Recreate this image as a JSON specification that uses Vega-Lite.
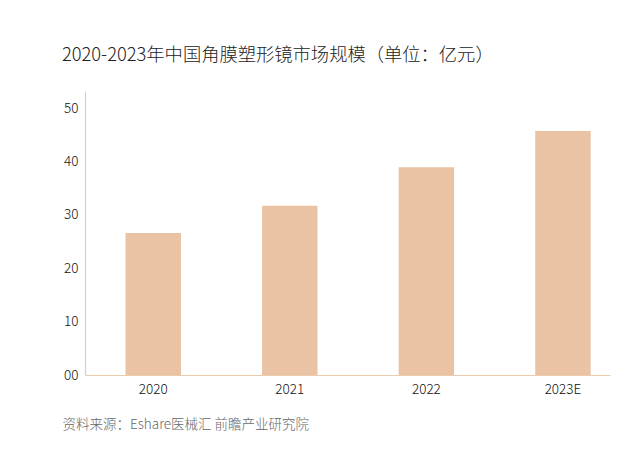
{
  "$schema": "https://vega.github.io/schema/vega-lite/v6.json",
  "width": 525,
  "height": 284,
  "autosize": {"type": "none"},
  "padding": {"left": 85, "top": 91, "right": 30, "bottom": 75},
  "background": "white",
  "config": {
    "font": "Noto Sans CJK SC",
    "view": {"stroke": null}
  },
  "title": {
    "text": "2020-2023年中国角膜塑形镜市场规模（单位：亿元）",
    "anchor": "start",
    "frame": "group",
    "dx": -23,
    "offset": 26,
    "fontSize": 18.3,
    "fontWeight": 300,
    "color": "#222222"
  },
  "data": {
    "values": [
      {"year": "2020", "value": 26.6},
      {"year": "2021", "value": 31.7},
      {"year": "2022", "value": 38.9},
      {"year": "2023E", "value": 45.7}
    ]
  },
  "mark": {"type": "bar", "color": "#E9C3A3"},
  "encoding": {
    "x": {
      "field": "year",
      "type": "ordinal",
      "sort": null,
      "scale": {"paddingInner": 0.594, "paddingOuter": 0.219, "align": 0.677},
      "axis": {
        "title": "资料来源：Eshare医械汇 前瞻产业研究院",
        "titleAnchor": "start",
        "titleAlign": "left",
        "titleX": -23,
        "titleY": 49,
        "titleBaseline": "middle",
        "titleFontSize": 13.5,
        "titleFontWeight": 300,
        "titleColor": "#666666",
        "labelAngle": 0,
        "labelFontSize": 13.5,
        "labelFontWeight": 300,
        "labelColor": "#111111",
        "labelPadding": 7,
        "ticks": false,
        "domainColor": "#EBCBAE",
        "domainWidth": 1.2
      }
    },
    "y": {
      "field": "value",
      "type": "quantitative",
      "scale": {"domain": [0, 53.2], "nice": false},
      "axis": {
        "title": null,
        "values": [0, 10, 20, 30, 40, 50],
        "labelExpr": "datum.value == 0 ? '00' : datum.label",
        "labelFontSize": 13.5,
        "labelFontWeight": 300,
        "labelColor": "#111111",
        "labelPadding": 7,
        "ticks": false,
        "grid": false,
        "domainColor": "#EBCBAE",
        "domainWidth": 1.2
      }
    }
  }
}
